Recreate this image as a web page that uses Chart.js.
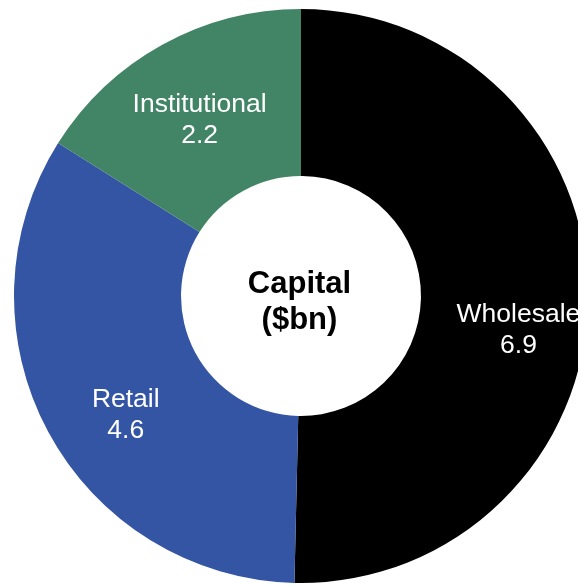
<!DOCTYPE html>
<html>
<head>
<meta charset="utf-8">
<script src="https://cdn.jsdelivr.net/npm/chart.js@4"></script>
<style>
  html, body { margin: 0; padding: 0; background: #fff; overflow: hidden; }
  #wrap { position: absolute; left: 0; top: 0; width: 602px; height: 592px; }
</style>
</head>
<body>
<div id="wrap"><canvas id="myChart" width="602" height="592"></canvas></div>
<script>
var labels = ['Wholesale', 'Retail', 'Institutional'];
var capital = [6.9, 4.6, 2.2];
var colors = ['#000000', '#3455a4', '#418466'];
// nudge of each label (x, first baseline) from the slice centroid
var labelNudge = [[14, 24], [4, 15], [-3, -6]];

var sliceLabels = {
    id: 'sliceLabels',
    afterDatasetsDraw: function (chart) {
        var ctx = chart.ctx;
        var arcs = chart.getDatasetMeta(0).data;
        ctx.save();
        ctx.fillStyle = '#ffffff';
        ctx.textAlign = 'center';
        ctx.textBaseline = 'alphabetic';
        ctx.font = '26.5px "Liberation Sans", Arial, sans-serif';
        for (var i = 0; i < arcs.length; i++) {
            var p = arcs[i].tooltipPosition();
            var x = p.x + labelNudge[i][0];
            var y = p.y + labelNudge[i][1];
            ctx.fillText(labels[i], x, y);
            ctx.fillText(capital[i].toFixed(1), x, y + 31);
        }
        // title in the hole
        var c = arcs[0];
        ctx.fillStyle = '#000000';
        ctx.font = 'bold 31px "Liberation Sans", Arial, sans-serif';
        ctx.fillText('Capital', c.x - 1.5, c.y - 3);
        ctx.fillText('($bn)', c.x - 1.5, c.y + 33);
        ctx.restore();
    }
};

var ctx = document.getElementById('myChart').getContext('2d');
var myChart = new Chart(ctx, {
    type: 'doughnut',
    data: {
        labels: labels,
        datasets: [{
            data: capital,
            backgroundColor: colors,
            borderWidth: 0,
            hoverOffset: 0
        }]
    },
    options: {
        responsive: false,
        animation: false,
        cutout: '41.8%',
        layout: { padding: 9 },
        plugins: {
            legend: { display: false },
            tooltip: { enabled: false }
        }
    },
    plugins: [sliceLabels]
});
</script>
</body>
</html>
